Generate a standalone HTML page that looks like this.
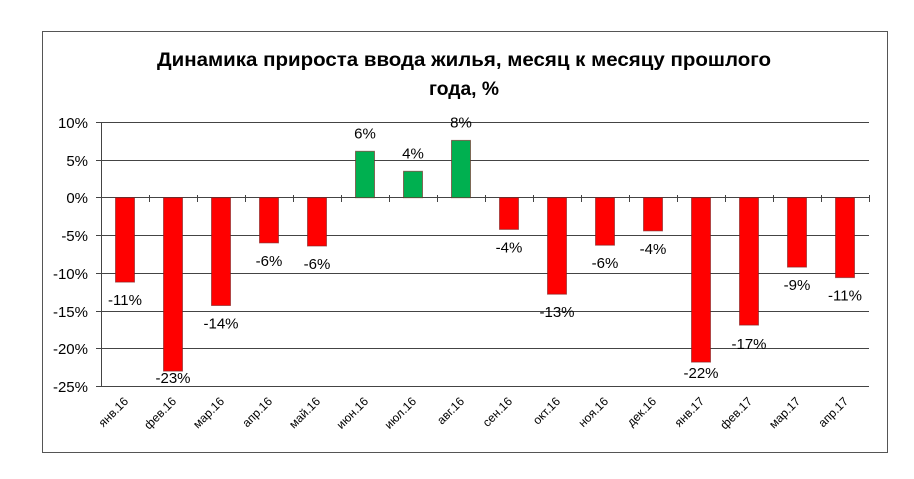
<!DOCTYPE html>
<html><head><meta charset="utf-8"><style>body{margin:0;background:#fff}svg{display:block}</style></head>
<body>
<svg width="914" height="479" xmlns="http://www.w3.org/2000/svg" font-family="'Liberation Sans', sans-serif">
<rect x="0" y="0" width="914" height="479" fill="#fff"/>
<rect x="42.5" y="31.5" width="845" height="421" fill="#fff" stroke="#555" stroke-width="1"/>
<text x="464" y="66" text-anchor="middle" font-size="19" font-weight="bold" textLength="614" lengthAdjust="spacingAndGlyphs">Динамика  прироста ввода  жилья, месяц к месяцу прошлого</text>
<text x="464" y="95" text-anchor="middle" font-size="19" font-weight="bold" textLength="70" lengthAdjust="spacingAndGlyphs">года, %</text>
<g stroke="#444" stroke-width="1">
<line x1="96" x2="869" y1="122.5" y2="122.5"/>
<line x1="96" x2="869" y1="160.5" y2="160.5"/>
<line x1="96" x2="869" y1="197.5" y2="197.5"/>
<line x1="96" x2="869" y1="235.5" y2="235.5"/>
<line x1="96" x2="869" y1="273.5" y2="273.5"/>
<line x1="96" x2="869" y1="311.5" y2="311.5"/>
<line x1="96" x2="869" y1="348.5" y2="348.5"/>
<line x1="96" x2="869" y1="386.5" y2="386.5"/>
<line x1="101.5" x2="101.5" y1="122" y2="386"/>
<line x1="149.5" x2="149.5" y1="195" y2="202"/>
<line x1="197.5" x2="197.5" y1="195" y2="202"/>
<line x1="245.5" x2="245.5" y1="195" y2="202"/>
<line x1="293.5" x2="293.5" y1="195" y2="202"/>
<line x1="341.5" x2="341.5" y1="195" y2="202"/>
<line x1="389.5" x2="389.5" y1="195" y2="202"/>
<line x1="437.5" x2="437.5" y1="195" y2="202"/>
<line x1="485.5" x2="485.5" y1="195" y2="202"/>
<line x1="533.5" x2="533.5" y1="195" y2="202"/>
<line x1="581.5" x2="581.5" y1="195" y2="202"/>
<line x1="629.5" x2="629.5" y1="195" y2="202"/>
<line x1="677.5" x2="677.5" y1="195" y2="202"/>
<line x1="725.5" x2="725.5" y1="195" y2="202"/>
<line x1="773.5" x2="773.5" y1="195" y2="202"/>
<line x1="821.5" x2="821.5" y1="195" y2="202"/>
<line x1="869.5" x2="869.5" y1="195" y2="202"/>
</g>
<g font-size="15" fill="#000" text-anchor="end">
<text x="88" y="128">10%</text><text x="88" y="166">5%</text><text x="88" y="203">0%</text>
<text x="88" y="241">-5%</text><text x="88" y="279">-10%</text><text x="88" y="317">-15%</text>
<text x="88" y="354">-20%</text><text x="88" y="392">-25%</text>
</g>
<g stroke="#7a2020" stroke-opacity="0.6" stroke-width="1">
<rect x="115.5" y="197.7" width="19" height="84.4" fill="#ff0000"/>
<rect x="163.5" y="197.7" width="19" height="173.4" fill="#ff0000"/>
<rect x="211.5" y="197.7" width="19" height="107.8" fill="#ff0000"/>
<rect x="259.5" y="197.7" width="19" height="45.2" fill="#ff0000"/>
<rect x="307.5" y="197.7" width="19" height="48.3" fill="#ff0000"/>
<rect x="355.5" y="151.3" width="19" height="46.4" fill="#00b050"/>
<rect x="403.5" y="171.3" width="19" height="26.4" fill="#00b050"/>
<rect x="451.5" y="140.4" width="19" height="57.3" fill="#00b050"/>
<rect x="499.5" y="197.7" width="19" height="31.7" fill="#ff0000"/>
<rect x="547.5" y="197.7" width="19" height="96.5" fill="#ff0000"/>
<rect x="595.5" y="197.7" width="19" height="47.5" fill="#ff0000"/>
<rect x="643.5" y="197.7" width="19" height="33.2" fill="#ff0000"/>
<rect x="691.5" y="197.7" width="19" height="164.4" fill="#ff0000"/>
<rect x="739.5" y="197.7" width="19" height="127.4" fill="#ff0000"/>
<rect x="787.5" y="197.7" width="19" height="69.4" fill="#ff0000"/>
<rect x="835.5" y="197.7" width="19" height="79.9" fill="#ff0000"/>
</g>
<g font-size="15" fill="#000" text-anchor="middle">
<text x="125" y="305">-11%</text>
<text x="173" y="383">-23%</text>
<text x="221" y="328.5">-14%</text>
<text x="269" y="266">-6%</text>
<text x="317" y="269">-6%</text>
<text x="365" y="138.3">6%</text>
<text x="413" y="158.3">4%</text>
<text x="461" y="127.4">8%</text>
<text x="509" y="252.4">-4%</text>
<text x="557" y="317.2">-13%</text>
<text x="605" y="268.2">-6%</text>
<text x="653" y="254">-4%</text>
<text x="701" y="378">-22%</text>
<text x="749" y="349">-17%</text>
<text x="797" y="290">-9%</text>
<text x="845" y="300.6">-11%</text>
</g>
<g font-size="12" fill="#000" text-anchor="end">
<text transform="translate(129,402) rotate(-45)">янв.16</text>
<text transform="translate(177,402) rotate(-45)">фев.16</text>
<text transform="translate(225,402) rotate(-45)">мар.16</text>
<text transform="translate(273,402) rotate(-45)">апр.16</text>
<text transform="translate(321,402) rotate(-45)">май.16</text>
<text transform="translate(369,402) rotate(-45)">июн.16</text>
<text transform="translate(417,402) rotate(-45)">июл.16</text>
<text transform="translate(465,402) rotate(-45)">авг.16</text>
<text transform="translate(513,402) rotate(-45)">сен.16</text>
<text transform="translate(561,402) rotate(-45)">окт.16</text>
<text transform="translate(609,402) rotate(-45)">ноя.16</text>
<text transform="translate(657,402) rotate(-45)">дек.16</text>
<text transform="translate(705,402) rotate(-45)">янв.17</text>
<text transform="translate(753,402) rotate(-45)">фев.17</text>
<text transform="translate(801,402) rotate(-45)">мар.17</text>
<text transform="translate(849,402) rotate(-45)">апр.17</text>
</g>
</svg>
</body></html>
